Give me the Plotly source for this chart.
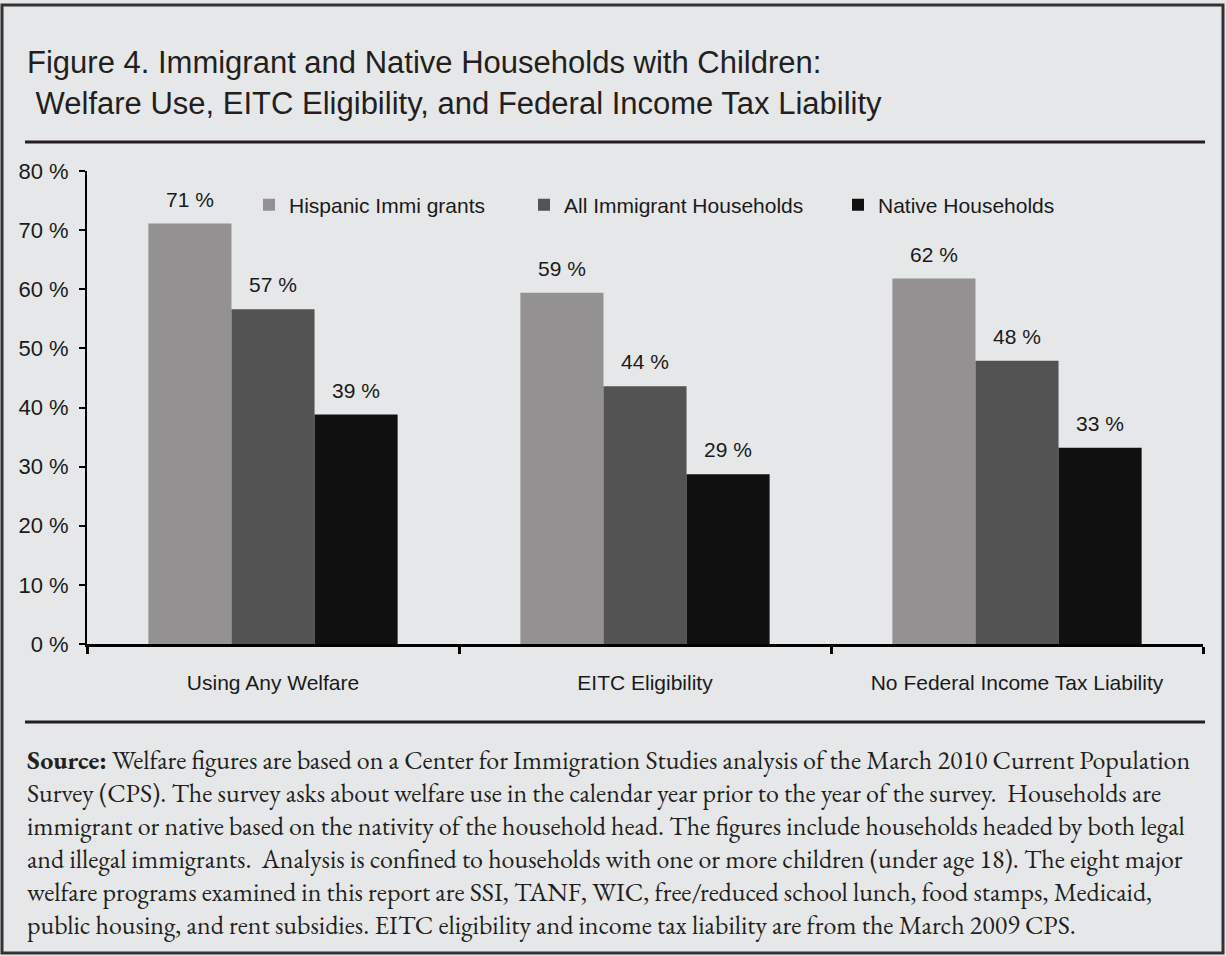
import plotly.graph_objects as go

# values
categories = ["Using Any Welfare", "EITC Eligibility", "No Federal Income Tax Liability"]
hispanic = [71.1, 59.4, 61.8]
all_immigrant = [56.6, 43.6, 47.9]
native = [38.8, 28.7, 33.2]
series_names = ["Hispanic Immi grants", "All Immigrant Households", "Native Households"]
y_ticks = [0, 10, 20, 30, 40, 50, 60, 70, 80]

W, H = 1226, 956
L, R, T, B = 87, 23, 171, 312
PW, PH = W - L - R, H - T - B
BG = "#e6e7e8"
SANS = "Liberation Sans, Arial, sans-serif"
SERIF = "EB Garamond, Liberation Serif, DejaVu Serif, serif"
BARGAP = 0.33


def px_x(x):
    return (x - L) / PW


def px_y(y):
    return (H - B - y) / PH


colors = ["#939192", "#535353", "#101010"]
bar_px = PW / len(categories) * (1 - BARGAP) / 3

fig = go.Figure()
for i, (name, vals) in enumerate(zip(series_names, [hispanic, all_immigrant, native])):
    fig.add_trace(go.Bar(
        x=categories, y=vals, name=name,
        marker=dict(color=colors[i], line=dict(width=0)),
        legend=["legend", "legend2", "legend3"][i],
    ))
    # value labels, a bit higher above the bars than plotly's outside text
    for cat, v in zip(categories, vals):
        fig.add_annotation(x=cat, y=v, text=f"{round(v)} %", showarrow=False,
                           xshift=(i - 1) * bar_px, yshift=11, yanchor="bottom",
                           font=dict(family=SANS, size=21, color="#1a1a1a"))

legend_style = dict(orientation="h", bgcolor="rgba(0,0,0,0)", xanchor="left", yanchor="middle",
                    font=dict(family=SANS, size=21, color="#1a1a1a"), itemwidth=30)

fig.update_layout(
    width=W, height=H,
    margin=dict(l=L, r=R, t=T, b=B),
    paper_bgcolor=BG, plot_bgcolor=BG,
    bargap=BARGAP, bargroupgap=0,
    showlegend=True,
    legend=dict(x=px_x(249), y=px_y(205), **legend_style),
    legend2=dict(x=px_x(524), y=px_y(205), **legend_style),
    legend3=dict(x=px_x(838), y=px_y(205), **legend_style),
    xaxis=dict(
        showline=True, linecolor="#000", linewidth=3,
        ticks="outside", tickson="boundaries", ticklen=7, tickwidth=3, tickcolor="#000",
        tickfont=dict(family=SANS, size=21, color="#1a1a1a"),
        ticklabelstandoff=18, showgrid=False,
    ),
    yaxis=dict(
        range=[0, 80], tickvals=y_ticks, ticktext=[f"{v} %" for v in y_ticks],
        showline=True, linecolor="#000", linewidth=2,
        ticks="outside", ticklen=6, tickwidth=2, tickcolor="#000",
        tickfont=dict(family=SANS, size=22, color="#1a1a1a"),
        ticklabelstandoff=6, showgrid=False, zeroline=False,
    ),
)

# frame and horizontal rules
fig.add_shape(type="rect", xref="paper", yref="paper",
              x0=px_x(2), x1=px_x(1223), y0=px_y(953), y1=px_y(5),
              line=dict(color="#333", width=3), layer="below")
for ry in [142, 722]:
    fig.add_shape(type="line", xref="paper", yref="paper",
                  x0=px_x(25), x1=px_x(1205), y0=px_y(ry), y1=px_y(ry),
                  line=dict(color="#231f20", width=3))

# title
title_lines = ["Figure 4. Immigrant and Native Households with Children:",
               "\u00a0Welfare Use, EITC Eligibility, and Federal Income Tax Liability"]
for j, line in enumerate(title_lines):
    fig.add_annotation(text=line, xref="paper", yref="paper", x=px_x(25), y=px_y(62 + 42 * j),
                       xanchor="left", yanchor="middle", showarrow=False,
                       font=dict(family=SANS, size=31, color="#231f20"))

# source note
source_lines = [
    "<b>Source:</b> Welfare figures are based on a Center for Immigration Studies analysis of the March 2010 Current Population",
    "Survey (CPS). The survey asks about welfare use in the calendar year prior to the year of the survey.  Households are",
    "immigrant or native based on the nativity of the household head. The figures include households headed by both legal",
    "and illegal immigrants.  Analysis is confined to households with one or more children (under age 18). The eight major",
    "welfare programs examined in this report are SSI, TANF, WIC, free/reduced school lunch, food stamps, Medicaid,",
    "public housing, and rent subsidies. EITC eligibility and income tax liability are from the March 2009 CPS.",
]
for j, line in enumerate(source_lines):
    fig.add_annotation(text=line, xref="paper", yref="paper", x=px_x(25), y=px_y(760 + 33 * j),
                       xanchor="left", yanchor="middle", showarrow=False,
                       font=dict(family=SERIF, size=26, color="#231f20"))

# the page is photographed at the window origin, so drop the default body margin
fig.write_html("out.html", config={"displayModeBar": False},
               post_script="document.body.style.margin = '0';")
